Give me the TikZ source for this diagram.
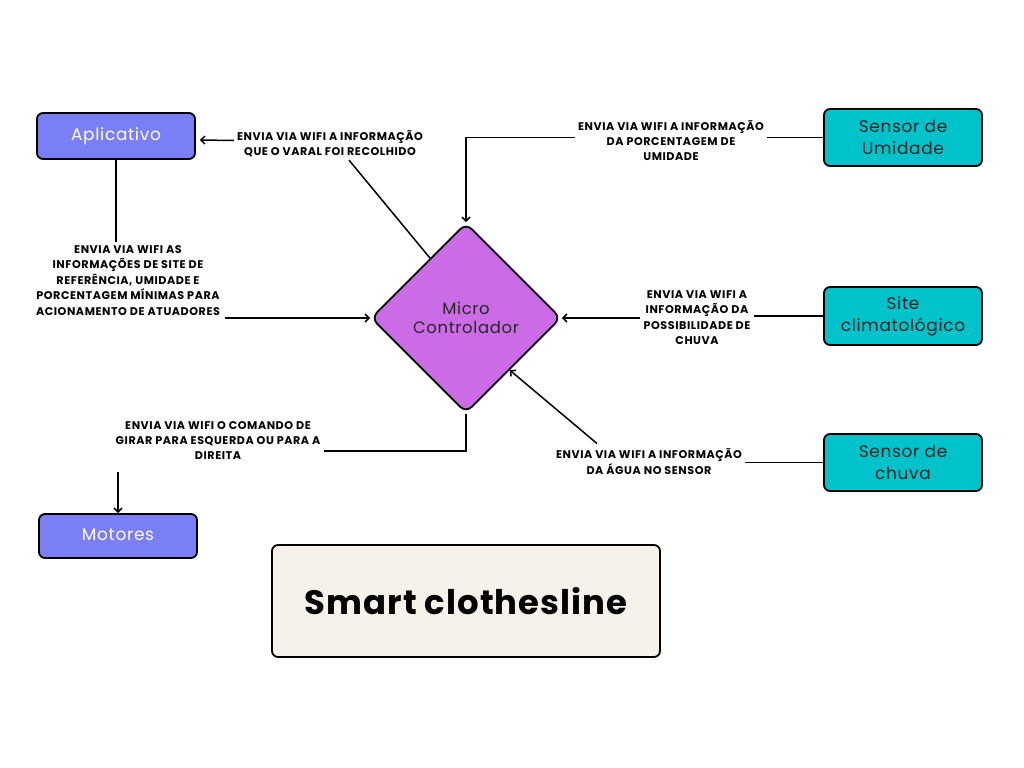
\documentclass[tikz,border=0pt]{standalone}
\usepackage{fontspec}
\setmainfont{Poppins}
\newfontfamily\boxfont{Poppins}[LetterSpace=4]
\newfontfamily\capfont{Poppins}[LetterSpace=5]
\newfontfamily\titlefont{Poppins}[LetterSpace=3]
\usetikzlibrary{shapes.geometric,arrows.meta,calc}
\definecolor{appblue}{HTML}{7B7FF5}
\definecolor{sensteal}{HTML}{00C2CA}
\definecolor{mcpurple}{HTML}{CB6CE6}
\definecolor{cream}{HTML}{F6F2EA}
\tikzset{
  box/.style={draw=black, line width=1.8bp, rounded corners=6bp, minimum width=158bp,
    align=center, font=\boxfont\fontsize{17}{22}\selectfont, inner sep=0pt},
  appbox/.style={box, fill=appblue, text=white},
  senbox/.style={box, fill=sensteal, text=black!85},
  lab/.style={align=center, font=\capfont\bfseries\fontsize{11.2}{15.5}\selectfont, inner sep=3bp},
  wire/.style={line width=1.5bp, draw=black},
  arr/.style={wire, -{Straight Barb[length=4bp,width=8bp]}}
}
\begin{document}
\begin{tikzpicture}[x=1bp,y=-1bp]
\useasboundingbox (0,0) rectangle (1024,768);

% devices
\node[appbox, minimum height=46bp] (app) at (116,136) {\strut Aplicativo};
\node[appbox, minimum height=44bp] (mot) at (118,536) {\strut Motores};
\node[senbox, minimum height=57bp] (hum) at (903,137.5) {Sensor de\\Umidade};
\node[senbox, minimum height=58bp] (site) at (903,316) {Site\\climatológico};
\node[senbox, minimum height=57bp] (rain) at (903,462.5) {Sensor de\\chuva};

% controller
\node[diamond, draw=black, line width=1.8bp, fill=mcpurple, rounded corners=8bp,
  minimum width=190bp, minimum height=190bp, inner sep=0pt, align=center,
  font=\boxfont\fontsize{16.5}{19}\selectfont, text=black!85] (mc) at (466,318) {Micro\\Controlador};

% title
\node[draw=black, line width=1.8bp, fill=cream, rounded corners=6bp,
  minimum width=388bp, minimum height=112bp, font=\titlefont\bfseries\fontsize{34}{40}\selectfont]
  (title) at (466,601) {Smart clothesline};

% message labels
\node[lab] (lab1) at (330,143.5) {ENVIA VIA WIFI A INFORMAÇÃO\\QUE O VARAL FOI RECOLHIDO};
\node[lab] (lab2) at (128,280.5) {ENVIA VIA WIFI AS\\INFORMAÇÕES DE SITE DE\\REFERÊNCIA, UMIDADE E\\PORCENTAGEM MÍNIMAS PARA\\ACIONAMENTO DE ATUADORES};
\node[lab] (lab3) at (671,140.5) {ENVIA VIA WIFI A INFORMAÇÃO\\DA PORCENTAGEM DE\\UMIDADE};
\node[lab] (lab4) at (697,317.5) {ENVIA VIA WIFI A\\INFORMAÇÃO DA\\POSSIBILIDADE DE\\CHUVA};
\node[lab] (lab5) at (649,461.5) {ENVIA VIA WIFI A INFORMAÇÃO\\DA ÁGUA NO SENSOR};
\node[lab] (lab6) at (218,440.5) {ENVIA VIA WIFI O COMANDO DE\\GIRAR PARA ESQUERDA OU PARA A\\DIREITA};

% controller -> app (collected)
\draw[wire] (mc.121) -- ($(lab1.south)+(19,0)$);
\draw[arr] ($(lab1.west)+(0,-3)$) -- ($(app.east)+(4,4)$);

% app -> controller (settings)
\draw[wire] (app.south) -- (app.south |- lab2.north);
\draw[arr] ($(lab2.south east |- mc.west)+(2,0)$) -- (mc.west);

% humidity sensor -> controller
\draw[wire] (hum.west) -- (hum.west -| lab3.east);
\draw[arr] (lab3.west |- hum.west) -| (mc.north);

% weather site -> controller
\draw[wire] (site.west) -- (site.west -| lab4.east);
\draw[arr] (lab4.west |- mc.east) -- (mc.east);

% rain sensor -> controller
\draw[wire] (rain.west) -- (rain.west -| lab5.east);
\draw[arr] ($(lab5.north)+(-52,-2)$) -- (mc.-50);

% controller -> motors
\draw[wire] (mc.south) |- ($(lab6.east)+(0,10.5)$);
\draw[arr] ($(lab6.south -| mot.north)+(0,9)$) -- (mot.north);
\end{tikzpicture}
\end{document}
